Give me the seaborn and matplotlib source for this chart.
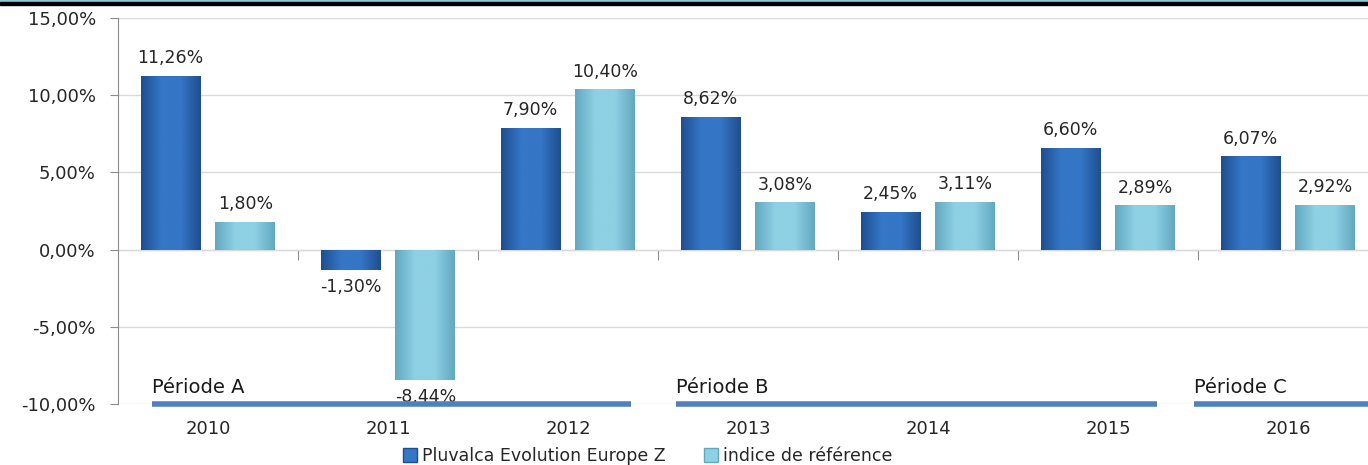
import matplotlib
matplotlib.use('Agg')
import numpy as np
import pandas as pd
import matplotlib.pyplot as plt
import seaborn as sns
from matplotlib.colors import LinearSegmentedColormap
from matplotlib.patches import Rectangle
from matplotlib.ticker import FuncFormatter, FixedLocator

# Data
years = ['2010', '2011', '2012', '2013', '2014', '2015', '2016']
fund_returns = [11.26, -1.30, 7.90, 8.62, 2.45, 6.60, 6.07]
index_returns = [1.80, -8.44, 10.40, 3.08, 3.11, 2.89, 2.92]
series_names = ['Pluvalca Evolution Europe Z', 'indice de référence']
period_labels = ['Période A', 'Période B', 'Période C']
period_spans = [(-0.31, 2.35), (2.6, 5.27), (5.48, 6.6)]

DARK = '#3576C6'
LIGHT = '#8ED0E4'
EDGE_DARK = '#1F4E8F'
EDGE_LIGHT = '#62A9C0'


def fr_pct(v, pos=None):
    return f"{v:.2f}%".replace('.', ',')


def shade_bar(ax, patch, edge, mid):
    """Fake the Excel bevel with a horizontal gradient clipped to the bar."""
    x0, y0 = patch.get_x(), patch.get_y()
    w, h = patch.get_width(), patch.get_height()
    cmap = LinearSegmentedColormap.from_list('b', [edge, mid, mid, edge])
    grad = np.linspace(0, 1, 64).reshape(1, -1)
    im = ax.imshow(grad, cmap=cmap, extent=(x0, x0 + w, y0, y0 + h),
                   aspect='auto', zorder=2.5, interpolation='bicubic')
    im.set_clip_path(patch)


df = pd.DataFrame({
    'year': years * 2,
    'value': fund_returns + index_returns,
    'serie': [series_names[0]] * len(years) + [series_names[1]] * len(years),
})

sns.set_style('white')
plt.rcParams['font.family'] = ['DejaVu Sans']

fig = plt.figure(figsize=(13.68, 4.65), dpi=100)
ax = fig.add_axes([118 / 1368, 61 / 465, 1260 / 1368, 386 / 465])

sns.barplot(data=df, x='year', y='value', hue='serie', order=years,
            hue_order=series_names, palette=[DARK, LIGHT], width=0.833,
            gap=0.2, legend=False, ax=ax, zorder=2, edgecolor='none')

for container, edge, mid in zip(ax.containers, [EDGE_DARK, EDGE_LIGHT], [DARK, LIGHT]):
    for patch in container:
        shade_bar(ax, patch, edge, mid)
    ax.bar_label(container, fmt=fr_pct, padding=6, fontsize=12.5, color='#262626')

ax.set_xlim(-0.5, 6.5)
ax.set_ylim(-10, 15)
ax.yaxis.set_major_locator(FixedLocator([-10, -5, 0, 5, 10, 15]))
ax.yaxis.set_major_formatter(FuncFormatter(fr_pct))
ax.grid(axis='y', color='#DADADA', linewidth=1, zorder=0)
ax.set_axisbelow(True)

for side in ['top', 'right', 'bottom']:
    ax.spines[side].set_visible(False)
ax.spines['left'].set_color('#8C8C8C')
ax.tick_params(axis='y', left=True, length=6, color='#8C8C8C', labelsize=13,
               labelcolor='#262626', pad=10)
ax.tick_params(axis='x', bottom=False, labelsize=13, labelcolor='#262626', pad=8)
ax.set_xlabel('')
ax.set_ylabel('')

# zero line with category separators
zero = ax.secondary_xaxis(10 / 25)
zero.spines['bottom'].set_color('#8C8C8C')
zero.set_xticks(np.arange(0.5, len(years) - 0.5, 1.0))
zero.tick_params(axis='x', length=7, color='#8C8C8C', labelbottom=False)

# period bands along the -10% line
for label, (start, end) in zip(period_labels, period_spans):
    ax.hlines(-10, start, end, color='#4F81BD', linewidth=4, zorder=4, clip_on=False)
    ax.annotate(label, xy=(start, -10), xytext=(0, 5), textcoords='offset points',
                ha='left', va='bottom', fontsize=14, color='#1A1A1A')

# legend
handles = [Rectangle((0, 0), 1, 1, facecolor=c, edgecolor=e) for c, e in
           [(DARK, EDGE_DARK), (LIGHT, EDGE_LIGHT)]]
fig.legend(handles, series_names, loc='center', ncol=2, frameon=False,
           bbox_to_anchor=(648 / 1368, 1 - 456 / 465), fontsize=12.5,
           handlelength=0.8, handleheight=0.8, handletextpad=0.3, columnspacing=2.2)

# header band
fig.add_artist(Rectangle((0, 1 - 2 / 465), 1, 2 / 465, transform=fig.transFigure,
                         color='#8CC8D8', zorder=10))
fig.add_artist(Rectangle((0, 1 - 5 / 465), 1, 3 / 465, transform=fig.transFigure,
                         color='black', zorder=10))

fig.savefig('out.png', dpi=100)
